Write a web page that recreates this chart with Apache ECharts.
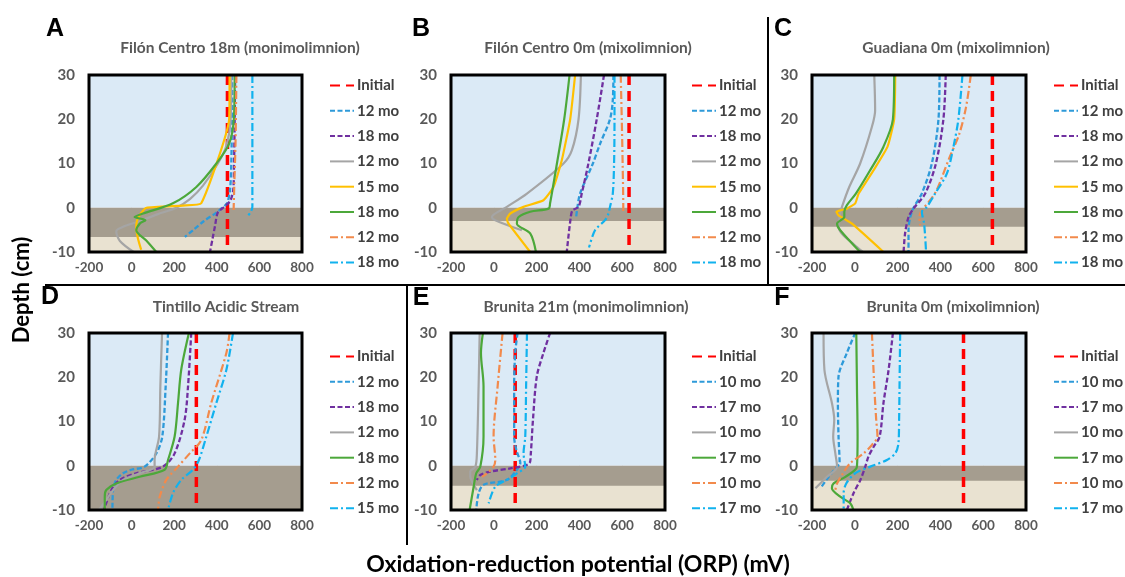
<!DOCTYPE html>
<html><head><meta charset="utf-8">
<script src="https://cdn.jsdelivr.net/npm/echarts@6/dist/echarts.min.js"></script>
<style>html,body{margin:0;padding:0;background:#fff}#c{width:1125px;height:577px}</style>
</head><body><div id="c"></div>
<script>
// ---------------- DATA ----------------
const xRange = [-200, 800];
const yRange = [-10, 30];
const panelLetters = ['A', 'B', 'C', 'D', 'E', 'F'];
const panelTitles = ['Filón Centro 18m (monimolimnion)', 'Filón Centro 0m (mixolimnion)', 'Guadiana 0m (mixolimnion)',
  'Tintillo Acidic Stream', 'Brunita 21m (monimolimnion)', 'Brunita 0m (mixolimnion)'];
const sedimentBottom = [-6.6, -3.0, -4.3, -10, -4.5, -3.4];

const labelsABC = ['Initial', '12 mo', '18 mo', '12 mo', '15 mo', '18 mo', '12 mo', '18 mo'];
const labelsD = ['Initial', '12 mo', '18 mo', '12 mo', '18 mo', '12 mo', '15 mo'];
const labelsEF = ['Initial', '10 mo', '17 mo', '10 mo', '17 mo', '10 mo', '17 mo'];
const stylesABC = ['init', 'dashBlue', 'dashPurple', 'gray', 'yellow', 'green', 'ddOrange', 'ddBlue'];
const stylesDEF = ['init', 'dashBlue', 'dashPurple', 'gray', 'green', 'ddOrange', 'ddBlue'];

// each curve: [ORP mV, depth cm]
const curvesA = [
  [[450, 30], [450, -10]],
  [[472, 30], [471, 20], [468, 10], [462, 4], [448, 1], [425, 0], [395, -1.2], [340, -3], [290, -5], [250, -6.6]],
  [[486, 30], [484, 20], [481, 10], [477, 4], [462, 1.5], [430, 0], [405, -1], [392, -4], [380, -7], [368, -10]],
  [[468, 30], [465, 20], [445, 14], [405, 10], [335, 5], [275, 2], [210, 0], [120, -1.5], [40, -3], [-40, -4.3], [-72, -5.3], [-55, -7.5], [10, -10]],
  [[460, 30], [458, 20], [327, 1], [240, 0.5], [70, 0], [40, -1.5], [25, -3], [22, -4.5], [30, -7], [45, -9.5]],
  [[484, 30], [480, 20], [458, 14.5], [398, 10], [304, 4.7], [194, 1], [54, -1.3], [14, -2.1], [65, -2.8], [38, -3.6], [22, -5.1], [69, -7.4], [116, -10]],
  [[492, 30], [488, 15], [482, 5], [479, -0.5]],
  [[567, 30], [567, 10], [567, 0.2], [559, -1], [546, -1.8]]
];
const curvesB = [
  [[632, 30], [632, -10]],
  [[559, 30], [556, 24.3], [543, 20], [497, 14.5], [463, 10], [403, 3.2], [391, 0.2], [385, -2]],
  [[515, 30], [481, 20], [442, 10], [411, 3.2], [396, 0.2], [368, -0.6], [360, -2], [341, -10]],
  [[407, 30], [396, 20], [365, 13], [326, 10], [155, 3.2], [61, 0.2], [-9, -2.1], [7, -2.8], [131, -5.1]],
  [[380, 30], [357, 20], [318, 10.8], [279, 4.7], [232, 1.7], [139, 0.2], [77, -1.3], [61, -2.5], [69, -3.6], [170, -10]],
  [[354, 30], [329, 20], [295, 10], [263, 1], [256, -0.2], [170, -0.9], [116, -2.1], [108, -3.6], [170, -5.8], [197, -10]],
  [[593, 30], [598, 20], [602, 10], [605, 0.2], [605, -1.3]],
  [[564, 30], [564, 20], [562, 10], [556, 3.2], [543, 0.2], [536, -1.3], [520, -2.8], [473, -5.1], [445, -9]]
];
const curvesC = [
  [[643, 30], [643, -10]],
  [[396, 30], [391, 20], [360, 10], [313, 3.2], [277, 0.2], [259, -2.1], [251, -5.1], [251, -10]],
  [[425, 30], [414, 20], [379, 10], [329, 3.2], [274, -0.2], [251, -2.1], [235, -5.8], [228, -10]],
  [[91, 30], [95, 22], [80, 18.3], [25, 10], [-26, 4.7], [-60, 0.2], [-68, -1.3], [-76, -4.3], [10, -8.9], [38, -10]],
  [[189, 30], [184, 20], [153, 13.8], [88, 8.5], [18, 3.2], [2, 1], [-37, -0.2], [-86, -0.9], [-76, -1.7], [-13, -3.6], [134, -10]],
  [[184, 30], [178, 20], [134, 13.8], [72, 8.5], [5, 3.2], [-37, 0.6], [-49, -0.9], [-49, -2.1], [-83, -3.6], [-68, -5.1], [25, -10]],
  [[542, 30], [520, 22.8], [489, 16.8], [438, 10.8], [383, 4], [352, 1.7], [313, -0.6], [302, -2.1], [305, -4]],
  [[503, 30], [484, 20], [461, 13.8], [430, 7.7], [375, 3.2], [337, 0.2], [313, -0.9], [324, -3.6], [333, -10]]
];
const curvesD = [
  [[304, 30], [304, -10]],
  [[171, 30], [160, 18], [144, 6.6], [116, 2.8], [61, -0.2], [-1, -0.9], [-40, -1.7], [-72, -3.2], [-87, -5.5], [-90, -10]],
  [[280, 30], [265, 18], [249, 10.4], [202, 2.8], [147, -0.2], [22, -1.7], [-56, -3.2], [-95, -5.5], [-130, -10]],
  [[143, 30], [135, 18], [129, 6.6], [108, 1.3], [108, -0.2], [38, -1.7], [-40, -3.2], [-87, -5.5], [-119, -7.7], [-153, -10]],
  [[269, 30], [233, 21.7], [218, 14.2], [202, 6.6], [171, 1.3], [155, -0.9], [38, -2.5], [-72, -4], [-119, -5.5], [-126, -7], [-126, -10]],
  [[460, 30], [445, 25.5], [374, 14.2], [327, 5.8], [273, 2.8], [218, -0.2], [163, -3.2], [132, -7], [124, -10]],
  [[476, 30], [445, 21.7], [398, 14.2], [351, 6.6], [316, 1.3], [288, -0.9], [233, -3.2], [194, -6.2], [171, -10]]
];
const curvesE = [
  [[100, 30], [100, -10]],
  [[111, 30], [100, 25.5], [95, 18], [95, 6.6], [105, 3.6], [124, 0.6], [108, -0.9], [61, -3.2], [-48, -4.3], [-71, -6.2], [-82, -10]],
  [[263, 30], [232, 25.5], [201, 20.2], [183, 10.4], [173, 2.8], [167, 0.6], [77, -0.6], [-16, -1.3], [-63, -2.1], [-79, -3.2]],
  [[-66, 30], [-71, 18], [-79, 2.8], [-86, -0.2], [-110, -1.3], [-110, -2.5], [-97, -4], [-79, -5.5]],
  [[-51, 30], [-60, 25.5], [-48, 18], [-48, 6.6], [-63, -0.2], [-82, -1.7], [-94, -4.7], [-113, -10]],
  [[41, 30], [18, 18], [-1, 6.6], [7, 1.3], [-1, -0.2], [-32, -1.7], [-55, -2.5]],
  [[155, 30], [151, 18], [147, 6.6], [139, 2.8], [147, -0.2], [108, -1.7], [61, -3.2], [7, -4.7], [-24, -8.5]]
];
const curvesF = [
  [[508, 30], [508, -10]],
  [[2, 30], [-37, 25.5], [-76, 20.2], [-79, 14], [-76, 6.6], [-71, 0.6], [-83, -0.2], [-122, -2.5], [-161, -5.1]],
  [[178, 30], [158, 21.7], [134, 14.2], [116, 6.6], [88, 4.3], [64, 2.1], [49, -0.2], [26, -3.2], [-6, -6.2], [-37, -10]],
  [[-146, 30], [-142, 21.7], [-107, 14.2], [-96, 10.4], [-101, 6.6], [-91, 2.8], [-83, -0.2], [-130, -2.5], [-184, -5.1]],
  [[7, 30], [10, 18], [13, 6.6], [10, -0.2], [-44, -2.5], [-99, -4], [-107, -5.1], [-68, -7], [-21, -8.5], [-6, -10]],
  [[80, 30], [91, 18], [100, 10.4], [106, 6.6], [80, 4.7], [41, 2.8], [-21, 0.6], [-55, -1.7], [-83, -4], [-91, -5.5]],
  [[212, 30], [209, 18], [207, 10.4], [204, 5.1], [189, 2.8], [150, 1.3], [72, -0.2], [2, -1.7], [-40, -4], [-52, -6.2], [-52, -10]]
];

// ---------------- STYLE / LAYOUT ----------------
const STYLE = {
  init: { color: '#ff0000', width: 3.5, type: [10, 6], smooth: false },
  dashBlue: { color: '#2e9ad9', width: 2.3, type: [5, 2.5], smooth: 0.3 },
  dashPurple: { color: '#7030a0', width: 2.3, type: [5, 2.5], smooth: 0.3 },
  gray: { color: '#a5a5a5', width: 2.2, type: 'solid', smooth: 0.3 },
  yellow: { color: '#ffc000', width: 2.2, type: 'solid', smooth: 0.15 },
  green: { color: '#4ca83a', width: 2.2, type: 'solid', smooth: 0.3 },
  ddOrange: { color: '#f28a4c', width: 2.2, type: [8, 3, 2, 3], smooth: 0.3 },
  ddBlue: { color: '#11b2ee', width: 2.2, type: [8, 3, 2, 3], smooth: 0.3 }
};
const panels = [
  { curves: curvesA, labels: labelsABC, styles: stylesABC },
  { curves: curvesB, labels: labelsABC, styles: stylesABC },
  { curves: curvesC, labels: labelsABC, styles: stylesABC },
  { curves: curvesD, labels: labelsD, styles: stylesDEF },
  { curves: curvesE, labels: labelsEF, styles: stylesDEF },
  { curves: curvesF, labels: labelsEF, styles: stylesDEF }
];
const colLeft = [89, 451, 812];
const colW = [213, 214, 214];
const rowTop = [75, 333];
const plotH = 177;
const legendLeft = [329, 691, 1053];
const legendTop = [78, 349];
const titleX = [240, 588, 956, 226, 586, 953];
const titleY = [48, 307];
const letterPos = [[55, 29], [421, 29], [783, 29], [50, 297], [421, 298], [782, 298]];
const FONT = 'Lato, "Open Sans", sans-serif';

const grid = [], xAxis = [], yAxis = [], series = [], legend = [], graphic = [];
const nameMap = {};

panels.forEach((p, i) => {
  const r = Math.floor(i / 3), c = i % 3;
  const L = colLeft[c], T = rowTop[r], W = colW[c];
  grid.push({ left: L, top: T, width: W, height: plotH, containLabel: false });
  xAxis.push({
    type: 'value', gridIndex: i, min: xRange[0], max: xRange[1], interval: 200,
    axisLine: { show: false }, splitLine: { show: false },
    axisTick: { show: true, length: 4, lineStyle: { color: '#7f7f7f' } },
    axisLabel: { color: '#595959', fontSize: 13.5, fontWeight: 'bold', fontFamily: FONT, margin: 9 }
  });
  yAxis.push({
    type: 'value', gridIndex: i, min: yRange[0], max: yRange[1], interval: 10,
    axisLine: { show: false }, splitLine: { show: false },
    axisTick: { show: true, length: 4, lineStyle: { color: '#7f7f7f' } },
    axisLabel: { color: '#595959', fontSize: 15, fontWeight: 'bold', fontFamily: FONT, margin: 14 }
  });
  series.push({
    type: 'line', xAxisIndex: i, yAxisIndex: i, data: [], silent: true, z: 1,
    markArea: { silent: true, data: [
      [{ yAxis: 0, itemStyle: { color: '#dbeaf6' } }, { yAxis: 30 }],
      [{ yAxis: -10, itemStyle: { color: '#e9e2d1' } }, { yAxis: 0 }]
    ] }
  });
  const names = [];
  p.curves.forEach((data, k) => {
    const st = STYLE[p.styles[k]];
    const nm = panelLetters[i] + k;
    nameMap[nm] = p.labels[k];
    names.push(nm);
    series.push({
      name: nm, type: 'line', xAxisIndex: i, yAxisIndex: i, data: data,
      showSymbol: false, symbol: 'none', smooth: st.smooth, z: 2,
      color: st.color,
      lineStyle: { color: st.color, width: st.width, type: st.type, cap: 'butt' },
      emphasis: { disabled: true }
    });
  });
  series.push({
    type: 'line', xAxisIndex: i, yAxisIndex: i, data: [], silent: true, z: 3,
    markArea: { silent: true, data: [
      [{ yAxis: sedimentBottom[i], itemStyle: { color: 'rgba(62,54,45,0.4)' } }, { yAxis: 0 }]
    ] }
  });
  legend.push({
    orient: 'vertical', left: legendLeft[c], top: legendTop[r], padding: 0,
    itemWidth: 24, itemHeight: 14, itemGap: 10.3, selectedMode: false,
    itemStyle: { opacity: 0 },
    data: names, formatter: n => nameMap[n],
    textStyle: { fontSize: 15, lineHeight: 14, fontWeight: 'bold', color: '#404040', fontFamily: FONT, padding: [0, 0, 0, -2] }
  });
  graphic.push({ type: 'rect', z: 100, silent: true,
    shape: { x: L, y: T, width: W, height: plotH },
    style: { fill: null, stroke: '#000', lineWidth: 3 } });
  graphic.push({ type: 'text', z: 100, x: titleX[i], y: titleY[r],
    style: { text: panelTitles[i], font: 'bold 15.5px ' + FONT, fill: '#595959', textAlign: 'center', textVerticalAlign: 'middle' } });
  graphic.push({ type: 'text', z: 100, x: letterPos[i][0], y: letterPos[i][1],
    style: { text: panelLetters[i], font: 'bold 25px Arial, "Liberation Sans", sans-serif', fill: '#000', textAlign: 'center', textVerticalAlign: 'middle' } });
});

graphic.push({ type: 'line', z: 100, shape: { x1: 768, y1: 17, x2: 768, y2: 285 }, style: { stroke: '#000', lineWidth: 2 } });
graphic.push({ type: 'line', z: 100, shape: { x1: 45, y1: 285, x2: 1125, y2: 285 }, style: { stroke: '#000', lineWidth: 2 } });
graphic.push({ type: 'line', z: 100, shape: { x1: 407, y1: 285, x2: 407, y2: 545 }, style: { stroke: '#000', lineWidth: 2 } });
graphic.push({ type: 'text', z: 100, x: 22, y: 290, rotation: Math.PI / 2,
  style: { text: 'Depth (cm)', font: 'bold 22px ' + FONT, fill: '#000', textAlign: 'center', textVerticalAlign: 'middle' } });
graphic.push({ type: 'text', z: 100, x: 578, y: 565,
  style: { text: 'Oxidation-reduction potential (ORP) (mV)', font: 'bold 23px ' + FONT, fill: '#000', textAlign: 'center', textVerticalAlign: 'middle' } });

const chart = echarts.init(document.getElementById('c'), null, { renderer: 'canvas' });
chart.setOption({ animation: false, backgroundColor: '#fff', grid, xAxis, yAxis, series, legend, graphic });
</script></body></html>
